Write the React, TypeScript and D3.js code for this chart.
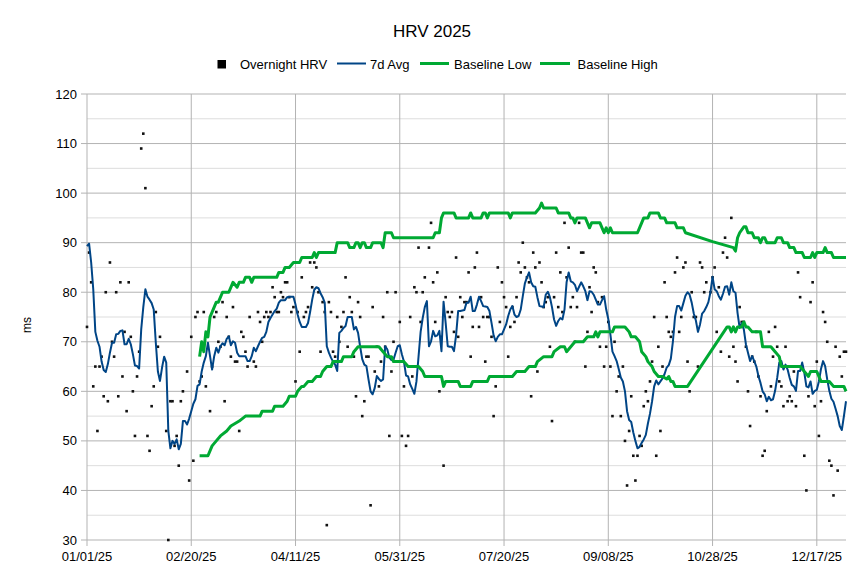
import React from 'react';
import * as d3 from 'd3';

// daily overnight readings, index = day of year (0 = 01/01/25), null = no reading
const overnightHrv: (number | null)[] = [
  73, 88, 82, 61, 65, 52, 65, 67, 59, 80, 58, 86, 70, 67, 80, 59, 82, 63, 72, 56,
  82, 71, 60, 51, 63, 68, 109, 112, 101, 51, 48, 57, 61, 76, 69, 71, null, null, 52, 30,
  58, 58, 49, 51, 45, 58, 60, null, 64, 42, 71, 46, 75, 76, 62, 63, 76, 61, 72, 56,
  65, 75, 76, 70, 69, 78, 58, 75, 71, 67, 77, 66, 66, 52, 72, 71, 68, 65, 75, null,
  66, 65, 76, 74, 70, 75, 76, 75, 76, 81, 79, 76, 76, 80, 79, 82, 82, 79, 76, 77,
  62, 76, 68, 83, 75, 76, 77, 86, 81, 86, 85, 80, 68, 78, 76, 33, 78, 76, 68, 67,
  75, 70, 73, 76, 83, 69, 79, 76, 67, 59, 78, 75, 55, 58, 67, 67, 37, 77, 64, 69,
  61, 66, 75, 69, 80, 51, 64, 70, 80, null, 74, 51, 61, 49, 51, 75, 63, 81, 80, 89,
  74, 80, 83, null, 89, 94, 82, 74, 84, 60, 71, 45, 79, 76, 75, 76, 72, 87, 71, 79,
  75, 78, 78, 84, 67, 73, 85, 88, 73, 79, 75, 66, 75, 75, 71, 55, 61, 85, 74, 82,
  79, 77, 67, 73, 77, 74, 79, 86, 84, 90, 85, 83, 82, 59, 88, 85, 64, 86, 82, 77,
  78, 79, 69, 54, 79, 88, 77, 84, 76, 94, 83, 89, 77, 79, 70, 77, 94, 88, 88, 65,
  72, 81, 76, 85, 84, 78, 69, 79, 65, 69, 74, 65, 55, 70, 60, 63, 55, 65, 50, 41,
  52, 59, 47, 42, 47, 51, 49, 57, 60, 58, 62, 66, 75, 47, 69, 52, 65, 82, 75, 72,
  71, 72, 84, 87, 72, 75, 85, 86, 66, 60, 80, 75, 75, 65, 86, 85, 80, 82, null, 80,
  83, 85, 72, 81, 68, 88, 91, 87, 67, 95, 69, 66, 62, 77, 74, 74, 69, 60, 53, 67,
  66, 72, 63, 59, 47, 48, 56, 72, 61, 67, 73, 69, 62, 61, 57, 69, 58, 59, 58, 64,
  57, 84, 79, 65, 47, 40, 59, 78, 82, 57, 66, 51, 58, 76, 74, 70, 46, 45, 39, 69,
  44, 67, 63, 68, 68,
];

// 7-day average, one value per day
const avg7d: number[] = [
  89.3, 89.8, 86, 80.6, 72, 70.2, 69, 66, 64.3, 63.9, 65.5, 67.8, 69.8, 69.8, 71.5, 71.6, 72.2, 72.3, 69.5, 69.5,
  70.6, 69.5, 67.5, 65.2, 65.1, 64.6, 72.5, 77, 80.6, 79.1, 78.5, 77.8, 76.5, 69.8, 64, 62.1, 64.8, 67, 65.8, 52,
  48.5, 50, 49.4, 50.3, 48.3, 49.4, 54, 54, 53.3, 54.5, 56, 57.5, 58.4, 61.1, 61.4, 64, 65.8, 67.1, 69.8, 67.1,
  64.4, 67.1, 68.8, 67.8, 69.1, 69.7, 69.3, 70.6, 71.1, 69.3, 70.1, 69.8, 67.8, 67.1, 67.1, 67.1, 67.1, 66.1, 66.1, 67.1,
  68.8, 68.1, 69.1, 70, 70.8, 71, 72, 74, 74.8, 75.5, 76.2, 76.7, 77.9, 78.4, 78.4, 78.4, 79, 79.1, 79.1, 79.1,
  77.5, 75.5, 74, 73, 73, 73, 73.8, 76, 78.5, 80.5, 81, 80.8, 79.8, 79, 77.9, 69.1, 67.8, 66.8, 66, 65.4,
  64.1, 71.8, 72.2, 72.8, 73.2, 75, 75, 75, 72.5, 73, 71.8, 69, 66.5, 65.4, 65.1, 62.4, 60, 59.4, 60.7, 63.1,
  62.5, 62.1, 62.4, 69.1, 68.5, 66.8, 66.3, 66.4, 67.8, 69.1, 69.3, 67.5, 66, 63.2, 63, 61.4, 60.5, 59.5, 62, 67,
  72, 74.8, 77, 78.2, 69.1, 70.1, 72.2, 71.1, 71.3, 72.2, 68.1, 78.1, 73.8, 69.1, 69, 69, 68.1, 71.3, 76.2, 76.2,
  76.3, 76.4, 77.9, 77.9, 79.1, 76.2, 76.2, 77.5, 79.1, 78.2, 77.2, 77.1, 77, 76.2, 73.8, 71.3, 70.1, 71, 71.5, 71.5,
  72.5, 73.5, 75.2, 76.5, 77.2, 75.5, 75, 75.2, 76.5, 79.2, 81.8, 83, 84, 82, 81.2, 81.1, 79, 77.2, 77.1, 77,
  79.5, 80.1, 79, 77, 74.5, 73.2, 74.2, 74.8, 74.5, 76.5, 82, 84, 82.2, 82, 81.5, 80.2, 81.1, 82, 81.2, 80.2,
  78.4, 80.2, 80.1, 79.5, 78.5, 77.5, 77.5, 78.4, 79.2, 76.5, 74.6, 71.5, 68, 67.1, 66.1, 64.5, 62.8, 62, 60, 56,
  54.2, 53.8, 51.7, 50, 48.5, 48.8, 49.6, 50.3, 51.2, 53.5, 55.5, 58, 61, 62.2, 61.4, 62, 62.6, 63.5, 64.8, 65.3,
  66.6, 70.1, 75, 77.2, 77.2, 76.3, 77.8, 79.3, 80, 79.5, 77.9, 75.7, 74.3, 72, 73.5, 75.7, 76.2, 77, 78, 80,
  83.1, 80.6, 80.2, 79.2, 78.5, 79.7, 81.1, 81.2, 79.5, 82, 80.2, 79.9, 75.8, 72.8, 73.8, 72.5, 69.5, 67.8, 66.1, 67.1,
  66.1, 65, 63.1, 61.7, 60, 59.4, 58, 58.9, 58.2, 58.4, 60.1, 62.7, 65.8, 66.1, 64.4, 65.4, 64.4, 62.7, 61.3, 61,
  60.1, 64.1, 64.1, 65.8, 63.8, 61, 60.8, 62, 59.5, 60.1, 60.3, 62, 64.5, 66.1, 65.1, 62.4, 60.1, 58.5, 57.9, 56.5,
  55, 53, 52.2, 55, 58,
];

// baseline bands, read at the day where the line changes
const lowDays = [
  54, 58, 60, 62, 64, 67, 69, 73, 76, 83, 84, 89, 90, 94, 96, 97, 100, 101, 103, 104,
  106, 108, 110, 112, 113, 115, 117, 118, 122, 123, 127, 128, 130, 140, 142, 144, 146, 147, 152, 154,
  159, 161, 162, 170, 171, 172, 178, 179, 184, 185, 192, 193, 204, 206, 210, 212, 215, 216, 219, 223,
  224, 227, 229, 230, 232, 234, 238, 240, 243, 244, 245, 246, 252, 253, 258, 260, 261, 263, 265, 266,
  268, 269, 271, 272, 274, 276, 278, 279, 280, 281, 282, 288, 307, 308, 309, 310, 311, 312, 314, 315,
  316, 317, 319, 323, 324, 328, 330, 332, 333, 342, 344, 346, 347, 350, 352, 356, 358, 363, 364,
];
const lowValues = [
  47, 47, 49, 50, 51, 52, 53, 54, 55, 55, 56, 56, 57, 57, 58, 59, 59, 60, 61, 61,
  62, 62, 63, 63, 64, 65, 65, 66, 66, 67, 67, 68, 69, 69, 68, 67, 67, 66, 66, 65,
  65, 64, 63, 63, 61, 62, 62, 61, 61, 62, 62, 63, 63, 64, 64, 65, 65, 66, 67, 67,
  68, 69, 69, 68, 69, 70, 70, 71, 71, 72, 71, 72, 72, 73, 73, 72, 71, 71, 70, 68,
  67, 66, 65, 64, 63, 63, 62.5, 63, 62, 62, 61, 61, 73, 73, 72, 73, 72, 73, 73, 74,
  73, 73, 72, 72, 69, 69, 68, 67, 65, 65, 64, 63, 64, 64, 62, 62, 61, 61, 60,
];
const highDays = [
  54, 55, 56, 57, 58, 59, 60, 62, 63, 65, 68, 70, 72, 73, 75, 76, 78, 79, 80, 91,
  92, 94, 95, 97, 99, 102, 103, 108, 109, 110, 111, 119, 120, 125, 126, 128, 129, 130, 131, 132,
  133, 134, 136, 137, 141, 142, 143, 146, 147, 166, 167, 169, 170, 171, 176, 177, 183, 184, 185, 189,
  190, 191, 192, 193, 202, 203, 204, 215, 217, 218, 219, 225, 226, 231, 232, 233, 234, 235, 239, 240,
  241, 242, 246, 247, 248, 249, 250, 251, 252, 264, 265, 266, 267, 269, 270, 274, 275, 277, 278, 282,
  283, 286, 287, 300, 310, 311, 312, 313, 315, 316, 317, 319, 320, 322, 323, 324, 325, 326, 330, 331,
  333, 334, 336, 337, 339, 340, 343, 344, 347, 348, 349, 350, 353, 354, 355, 357, 358, 364,
];
const highValues = [
  67, 70, 68, 72, 71, 75, 76, 78, 78, 80, 80, 82, 81, 82, 82, 83, 83, 82, 83, 83,
  84, 84, 85, 85, 86, 86, 87, 87, 88, 87, 88, 88, 90, 90, 89, 89, 90, 90, 89, 90,
  90, 89, 89, 90, 90, 89, 92, 92, 91, 91, 92, 92, 95, 96, 96, 95, 95, 96, 95, 95,
  96, 96, 95, 96, 96, 95, 96, 96, 97, 98, 97, 97, 96, 96, 95, 95, 94, 95, 95, 94,
  93, 94, 94, 93, 92, 93, 92, 93, 92, 92, 93, 94, 95, 95, 96, 96, 95, 95, 94, 94,
  93, 93, 92, 90.2, 89, 88.3, 91, 92, 93.2, 93.2, 92, 92, 91, 91, 90, 91, 91, 90, 90, 91,
  91, 90, 90, 89, 89, 88, 88, 87, 87, 88, 87, 88, 88, 89, 88, 88, 87, 87,
];

const yTicks = [30, 40, 50, 60, 70, 80, 90, 100, 110, 120];
const yMinorTicks = [35, 45, 55, 65, 75, 85, 95, 105, 115];
const xTickDays = [0, 50, 100, 150, 200, 250, 300, 350];

const width = 864;
const height = 576;
const margin = { top: 94, right: 18, bottom: 36, left: 87 };
const font = '"Liberation Sans", Arial, sans-serif';
const blue = '#004586';
const green = '#00a933';
const gridMajor = '#b3b3b3';
const gridMinor = '#dddddd';
const dotSize = 2.6;

const start = new Date(Date.UTC(2025, 0, 1));
const end = new Date(Date.UTC(2025, 11, 31));
const dayDate = (d: number) => d3.utcDay.offset(start, d);

const App = () => {
  const x = d3.scaleUtc().domain([start, end]).range([margin.left, width - margin.right]);
  const y = d3.scaleLinear().domain([30, 120]).range([height - margin.bottom, margin.top]);
  const fmt = d3.utcFormat('%m/%d/%y');

  const dots = overnightHrv
    .map((v, i) => ({ d: i, v }))
    .filter(p => p.v !== null) as { d: number; v: number }[];

  const avgPath = d3.line<number>()
    .x((_, i) => x(dayDate(i)))
    .y(v => y(v))(avg7d);

  const pairLine = d3.line<[number, number]>()
    .x(p => x(dayDate(p[0])))
    .y(p => y(p[1]));
  const lowPath = pairLine(lowDays.map((d, i) => [d, lowValues[i]] as [number, number]));
  const highPath = pairLine(highDays.map((d, i) => [d, highValues[i]] as [number, number]));

  const x0 = margin.left;
  const x1 = width - margin.right;
  const yBottom = height - margin.bottom;

  return (
    <svg width={width} height={height} style={{ position: 'absolute', left: 0, top: 0, background: '#fff' }}
      fontFamily={font}>
      <rect width={width} height={height} fill="#fff" />
      <text x={432} y={37} textAnchor="middle" fontSize={17} fill="#000">HRV 2025</text>

      {/* legend */}
      <rect x={217.5} y={60} width={8.5} height={8.5} fill="#000" />
      <text x={240} y={68.7} fontSize={13}>Overnight HRV</text>
      <line x1={337} x2={366} y1={63.5} y2={63.5} stroke={blue} strokeWidth={2} />
      <text x={370} y={68.7} fontSize={13}>7d Avg</text>
      <line x1={420} x2={449} y1={63.5} y2={63.5} stroke={green} strokeWidth={3} />
      <text x={454} y={68.7} fontSize={13}>Baseline Low</text>
      <line x1={540} x2={570} y1={63.5} y2={63.5} stroke={green} strokeWidth={3} />
      <text x={577.5} y={68.7} fontSize={13}>Baseline High</text>

      {/* grid */}
      {yMinorTicks.map(t => (
        <line key={'m' + t} x1={x0} x2={x1} y1={y(t)} y2={y(t)} stroke={gridMinor} strokeWidth={1} />
      ))}
      {yTicks.map(t => (
        <line key={'g' + t} x1={x0 - 6} x2={x1} y1={y(t)} y2={y(t)} stroke={gridMajor} strokeWidth={1} />
      ))}
      {xTickDays.map(d => (
        <line key={'v' + d} x1={x(dayDate(d))} x2={x(dayDate(d))} y1={margin.top} y2={yBottom + 6}
          stroke={gridMajor} strokeWidth={1} />
      ))}

      {/* axis labels */}
      {yTicks.map(t => (
        <text key={'yl' + t} x={77} y={y(t) + 4.5} textAnchor="end" fontSize={13}>{t}</text>
      ))}
      {xTickDays.map(d => (
        <text key={'xl' + d} x={x(dayDate(d))} y={561} textAnchor="middle" fontSize={13}>
          {fmt(dayDate(d))}
        </text>
      ))}
      <text transform="translate(31,325) rotate(-90)" textAnchor="middle" fontSize={12}>ms</text>

      {/* series */}
      {dots.map(p => (
        <rect key={'p' + p.d} x={x(dayDate(p.d)) - dotSize / 2} y={y(p.v) - dotSize / 2}
          width={dotSize} height={dotSize} fill="#111" />
      ))}
      <path d={avgPath || ''} fill="none" stroke={blue} strokeWidth={2} strokeLinejoin="round" />
      <path d={lowPath || ''} fill="none" stroke={green} strokeWidth={3} strokeLinejoin="round" />
      <path d={highPath || ''} fill="none" stroke={green} strokeWidth={3} strokeLinejoin="round" />
    </svg>
  );
};

export default App;
